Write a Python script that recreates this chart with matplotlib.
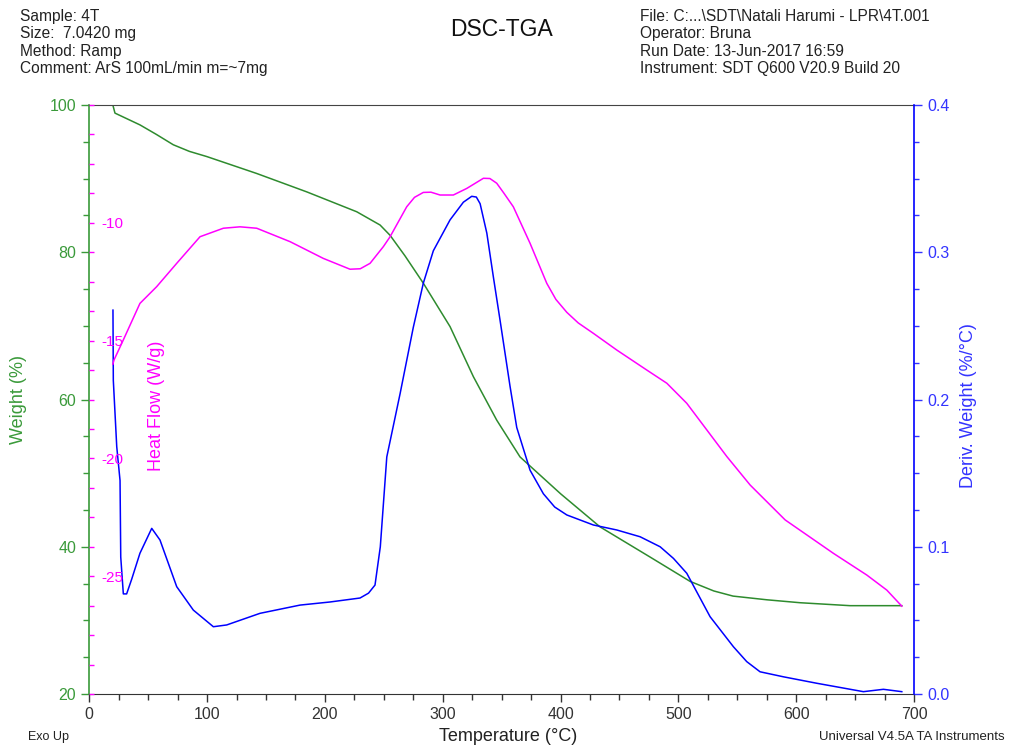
import numpy as np
import matplotlib.pyplot as plt
from matplotlib.ticker import MultipleLocator

plt.rcParams['font.family'] = ['Liberation Sans', 'DejaVu Sans']
plt.rcParams['axes.unicode_minus'] = False

# weight (%) vs temperature
T_weight = [20, 21.8, 43.0, 57.0, 71.3, 85.0, 99.7, 142.1, 184.6, 227.0, 246.8, 255.3, 268.0,
            283.5, 306.2, 326.0, 345.8, 365.6, 400.0, 433.5, 476.0, 509.9, 530.0, 546.4,
            575.0, 603.3, 645.7, 689.6]
weight = [100, 98.9, 97.3, 96.0, 94.6, 93.7, 93.0, 90.7, 88.2, 85.5, 83.7, 82.3, 79.5,
          75.8, 69.9, 63.1, 57.2, 52.2, 47.2, 42.7, 38.6, 35.3, 34.0, 33.3,
          32.8, 32.4, 32.0, 32.0]

# heat flow (W/g)
T_heat = [20, 21.0, 28.9, 43.0, 57.2, 74.2, 94.0, 113.8, 127.9, 142.1, 170.4, 198.6, 221.3,
          230.0, 238.3, 249.6, 255.3, 269.4, 276.0, 283.5, 290.0, 297.7, 309.0, 320.4, 334.5,
          340.0, 345.8, 352.0, 359.9, 374.1, 388.3, 396.0, 405.3, 415.0, 427.8, 447.7, 473.2,
          490.2, 507.1, 524.1, 541.1, 560.9, 590.6, 631.6, 659.9, 676.9, 689.6]
heat = [-16.0, -15.82, -14.97, -13.42, -12.71, -11.72, -10.59, -10.23, -10.17, -10.23, -10.80,
        -11.51, -11.97, -11.95, -11.72, -11.01, -10.59, -9.32, -8.92, -8.71, -8.70, -8.82,
        -8.82, -8.54, -8.11, -8.12, -8.32, -8.75, -9.32, -10.87, -12.57, -13.25, -13.8,
        -14.25, -14.69, -15.40, -16.25, -16.81, -17.66, -18.79, -19.92, -21.13, -22.61,
        -24.03, -24.95, -25.59, -26.27]

# derivative weight (%/°C)
T_deriv = [20.1, 20.4, 23.3, 26.1, 26.7, 28.9, 31.7, 36.0, 43.0, 53.0, 60.0, 74.2, 88.3, 105.3,
           116.6, 144.9, 178.9, 204.3, 229.8, 237.0, 242.5, 247.0, 252.5, 263.8, 275.0,
           283.5, 292.0, 306.2, 317.5, 324.6, 328.5, 331.7, 337.4, 343.0, 348.6, 357.1, 362.8,
           374.1, 385.4, 395.0, 405.3, 427.8, 447.7, 467.5, 484.5, 495.8, 507.1, 526.9,
           546.7, 558.0, 569.3, 589.1, 617.5, 657.0, 674.0, 689.6]
deriv = [0.2607, 0.213, 0.168, 0.145, 0.093, 0.068, 0.068, 0.078, 0.0956, 0.1125, 0.1046,
         0.0729, 0.057, 0.0457, 0.0469, 0.0548, 0.0604, 0.0625, 0.0652, 0.0685, 0.074,
         0.100, 0.161, 0.204, 0.249, 0.279, 0.301, 0.322, 0.334, 0.338, 0.3375, 0.333, 0.313,
         0.283, 0.254, 0.209, 0.181, 0.152, 0.136, 0.127, 0.1216, 0.1148, 0.1114, 0.1068,
         0.1000, 0.0921, 0.082, 0.0525, 0.0321, 0.022, 0.0151, 0.0117, 0.0073, 0.0016,
         0.0032, 0.0016]

c_green = '#2e8b2e'
c_green_txt = '#3a9a3a'
c_mag = '#ff00ff'
c_blue = '#0000ff'
c_blue_txt = '#3333ff'

fig = plt.figure(figsize=(10.1, 7.49), dpi=100)
ax = fig.add_axes([0.0884, 0.0734, 0.8166, 0.7864])

ax.plot(T_weight, weight, color=c_green, lw=1.1)
ax.set_xlim(0, 700)
ax.set_ylim(20, 100)
ax.xaxis.set_major_locator(MultipleLocator(100))
ax.xaxis.set_minor_locator(MultipleLocator(25))
ax.yaxis.set_major_locator(MultipleLocator(20))
ax.yaxis.set_minor_locator(MultipleLocator(5))
ax.tick_params(axis='x', which='major', length=6, width=1, labelsize=11.5, colors='#333333')
ax.tick_params(axis='x', which='minor', length=4, width=1, color='#333333')
ax.tick_params(axis='y', which='major', length=6, width=1, labelsize=11.5, colors=c_green_txt)
ax.tick_params(axis='y', which='minor', length=4, width=1, color=c_green_txt)
ax.spines['left'].set_color(c_green_txt)
ax.spines['left'].set_linewidth(1.2)
ax.spines['right'].set_visible(False)
ax.spines['top'].set_color('#444444')
ax.spines['bottom'].set_color('#333333')
ax.set_ylabel('Weight (%)', color=c_green_txt, fontsize=13)
ax.yaxis.set_label_coords(-0.075, 0.50)
ax.set_xlabel('Temperature (°C)', color='#222222', fontsize=13)
ax.xaxis.set_label_coords(0.508, -0.058)

# deriv weight on the right
ax2 = ax.twinx()
ax2.plot(T_deriv, deriv, color=c_blue, lw=1.1)
ax2.set_ylim(0, 0.4)
ax2.yaxis.set_major_locator(MultipleLocator(0.1))
ax2.yaxis.set_minor_locator(MultipleLocator(0.025))
ax2.tick_params(axis='y', which='major', length=6, width=1, labelsize=11.5, colors=c_blue_txt)
ax2.tick_params(axis='y', which='minor', length=3.5, width=1, color=c_blue_txt)
ax2.spines['right'].set_color(c_blue)
ax2.spines['right'].set_linewidth(1.2)
for s in ['left', 'top', 'bottom']:
    ax2.spines[s].set_visible(False)
ax2.set_ylabel('Deriv. Weight (%/°C)', color=c_blue_txt, fontsize=13)
ax2.yaxis.set_label_coords(1.056, 0.49)

# heat flow, axis drawn inside on the left edge
ax3 = ax.twinx()
ax3.plot(T_heat, heat, color=c_mag, lw=1.1)
ax3.set_ylim(-30, -5)
ax3.spines['right'].set_position(('axes', 0.0))
for s in ['left', 'right', 'top', 'bottom']:
    ax3.spines[s].set_visible(False)
ax3.set_yticks([-10, -15, -20, -25])
ax3.yaxis.set_minor_locator(MultipleLocator(1.25))
ax3.tick_params(axis='y', which='both', length=3.5, width=1, colors=c_mag, labelsize=11, pad=5)
ax3.set_ylabel('Heat Flow (W/g)', color=c_mag, fontsize=13)
ax3.yaxis.set_label_coords(0.071, 0.49)

# header text
head_l = 'Sample: 4T\nSize:  7.0420 mg\nMethod: Ramp\nComment: ArS 100mL/min m=~7mg'
head_r = ('File: C:...\\SDT\\Natali Harumi - LPR\\4T.001\nOperator: Bruna\n'
          'Run Date: 13-Jun-2017 16:59\nInstrument: SDT Q600 V20.9 Build 20')
fig.text(20 / 1010, 1 - 9 / 749, head_l, ha='left', va='top', fontsize=11.2,
         color='#222222', linespacing=1.2)
fig.text(640 / 1010, 1 - 9 / 749, head_r, ha='left', va='top', fontsize=11.2,
         color='#222222', linespacing=1.2)
fig.text(501 / 1010, 1 - 29 / 749, 'DSC-TGA', ha='center', va='center', fontsize=16.5,
         color='#111111')
fig.text(28 / 1010, 1 - 737 / 749, 'Exo Up', ha='left', va='center', fontsize=9,
         color='#222222')
fig.text(1005 / 1010, 1 - 737 / 749, 'Universal V4.5A TA Instruments', ha='right',
         va='center', fontsize=9.5, color='#222222')

fig.savefig('out.png', dpi=100)
